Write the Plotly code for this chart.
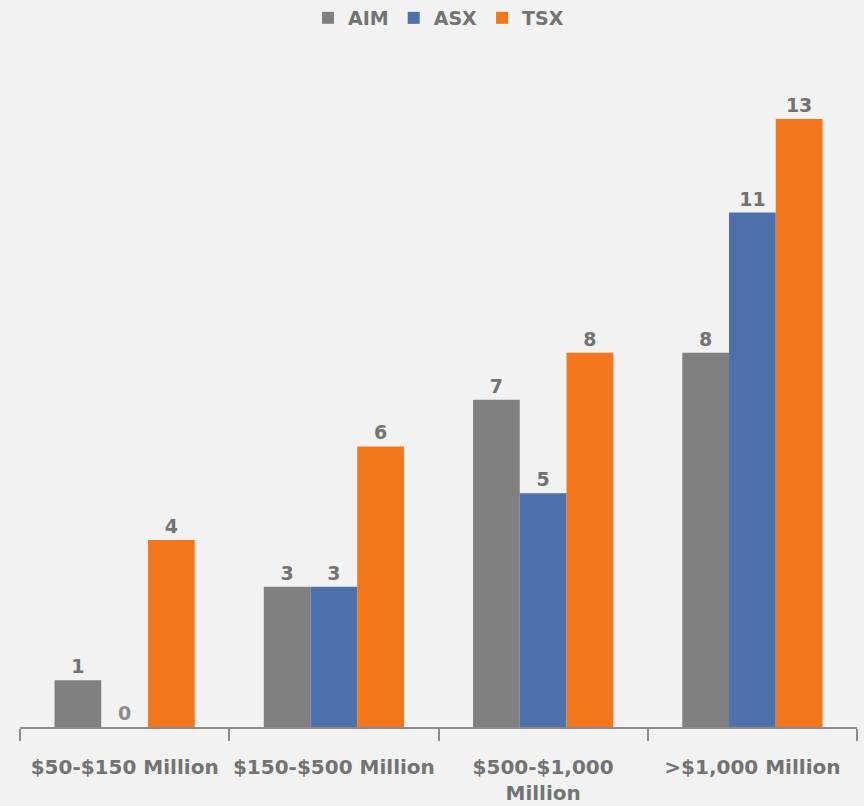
import plotly.graph_objects as go

categories = ["$50-$150 Million", "$150-$500 Million", "$500-$1,000<br>Million", ">$1,000 Million"]
aim = [1, 3, 7, 8]
asx = [0, 3, 5, 11]
tsx = [4, 6, 8, 13]

colors = {"AIM": "#808080", "ASX": "#4C71AC", "TSX": "#F4761B"}
font_fam = "DejaVu Sans, Open Sans, sans-serif"
text_color = "#737373"

fig = go.Figure()
for name, vals in [("AIM", aim), ("ASX", asx), ("TSX", tsx)]:
    fig.add_trace(go.Bar(
        name=name, x=categories, y=vals,
        marker=dict(color=colors[name], line=dict(width=0)),
        text=[str(v) for v in vals], textposition="outside",
        textfont=dict(family=font_fam, size=19, weight="bold",
                      color=["#8C8C8C" if v == 0 else text_color for v in vals]),
        cliponaxis=False,
    ))

fig.update_layout(
    width=864, height=806,
    paper_bgcolor="#F2F2F2", plot_bgcolor="#F2F2F2",
    barmode="group", bargap=0.33, bargroupgap=0,
    margin=dict(l=20, r=7, t=40, b=79, autoexpand=False),
    legend=dict(orientation="h", x=0.5, xanchor="center", y=1 - 18 / 806, yanchor="middle",
                yref="container",
                font=dict(family=font_fam, size=19, color=text_color, weight="bold"),
                itemwidth=30, traceorder="normal", tracegroupgap=0),
    font=dict(family=font_fam, color=text_color),
)
fig.update_xaxes(
    showline=True, linecolor="#8C8C8C", linewidth=2,
    ticks="outside", tickson="boundaries", ticklen=12, tickcolor="#8C8C8C", tickwidth=2,
    tickfont=dict(family=font_fam, size=20, color=text_color, weight="bold"),
    tickangle=0, ticklabelstandoff=21,
    showgrid=False, automargin=False,
)
fig.update_yaxes(visible=False, range=[0, 14.69], showgrid=False)

fig.write_html("out.html", config={"displayModeBar": False},
               post_script="document.body.style.margin='0';document.body.style.background='#F2F2F2';")
